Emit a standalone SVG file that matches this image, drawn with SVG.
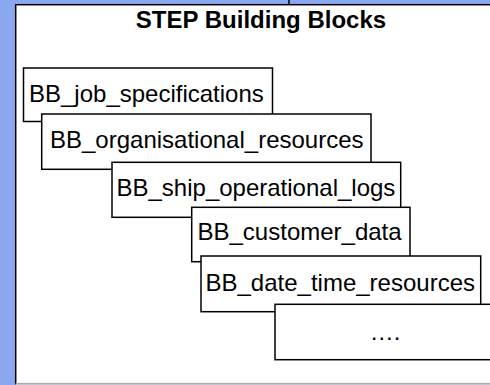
<svg xmlns="http://www.w3.org/2000/svg" width="490" height="385" viewBox="0 0 490 385">
<style>
.box{fill:#fff;stroke:#000;stroke-width:1.5}
.lbl{font-family:"Liberation Sans",Arial,sans-serif;font-size:24px;fill:#000}
.title{font-family:"Liberation Sans",Arial,sans-serif;font-size:24px;font-weight:bold;fill:#000}
</style>
<rect x="0" y="0" width="490" height="385" fill="#8aa8f0"/>
<rect x="15.7" y="4.7" width="480" height="379" fill="#fff" stroke="#000" stroke-width="1.5"/>
<line x1="15.7" y1="384" x2="490" y2="384" stroke="#e6e6e6" stroke-width="1.5"/>
<line x1="289" y1="0" x2="289" y2="4.7" stroke="#000" stroke-width="1.5"/>
<text class="title" x="261" y="28" text-anchor="middle">STEP Building Blocks</text>
<g id="connectors"></g>
<g id="bb1"><rect class="box" x="23.5" y="68" width="249" height="53.5"/><text class="lbl" x="29" y="101.5">BB_job_specifications</text></g>
<g id="bb2"><rect class="box" x="41.7" y="114" width="329.3" height="55.3"/><text class="lbl" x="50" y="148.3">BB_organisational_resources</text></g>
<g id="bb3"><rect class="box" x="112" y="162.3" width="288.7" height="55"/><text class="lbl" x="116.5" y="196">BB_ship_operational_logs</text></g>
<g id="bb4"><rect class="box" x="191.7" y="207.3" width="218.3" height="54.4"/><text class="lbl" x="197.5" y="240">BB_customer_data</text></g>
<g id="bb5"><rect class="box" x="201" y="256" width="279.7" height="55.7"/><text class="lbl" x="205.5" y="290.7">BB_date_time_resources</text></g>
<g id="bb6"><rect class="box" x="275" y="304.3" width="230" height="55.4"/><text class="lbl" x="385" y="340" text-anchor="middle">….</text></g>
</svg>
